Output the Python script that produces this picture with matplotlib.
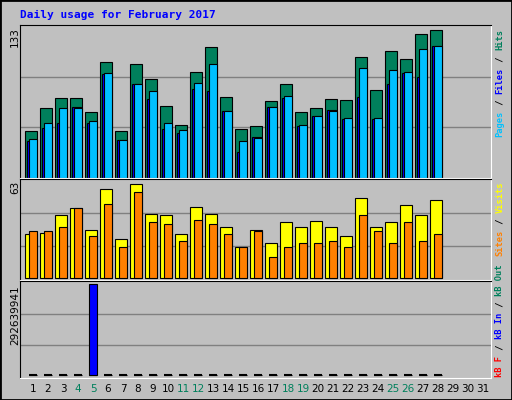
import matplotlib
matplotlib.use("Agg")
import matplotlib.pyplot as plt
from matplotlib.patches import Rectangle

days = list(range(1, 32))
hits = [40.7,61,69.7,69.7,57.4,101,40.7,99.6,86.4,62.7,46,92.6,114.5,70.6,42.5,45,67,82,57.4,61,68.8,68,105.8,76.8,111,104,126,129.5]
pages = [32,44,47.8,61.8,47.8,90.8,32.8,82,68.8,42.5,39,77.6,75.9,58.3,23,35.4,61.8,69.7,45,53.9,59,51.3,70.6,51.3,82,91.7,88.2,115.4]
files = [33.7,47.8,61,61,49.5,91.7,32.8,82,75.9,47.8,41.6,83,99.6,58.3,31.9,34.6,61.8,71.5,46,53.9,58.3,52.1,96,52.1,94.3,92.6,112.8,115.4]
visits = [28.3,29,40.8,44.8,31,57.3,25,60.6,41.5,40.8,28.3,45.4,41.5,32.9,20.4,31,22.4,36.2,32.9,36.9,32.9,27,51.4,32.9,36.2,46.8,40.8,50]
sites = [30.3,30.3,32.9,44.8,27,47.4,19.8,55.3,36.2,34.9,23.7,37.5,34.9,28.3,19.8,30.3,13.8,20.4,22.4,22.4,23.7,19.8,40.8,30.3,22.4,36.2,23.7,28.3]
kb_in = [0,0,0,0,292639941] + [0]*23
weekend = [4,5,11,12,18,19,25,26]
max_top, max_mid, max_bot = 133, 63, 292639941

W, H = 512, 400
fig = plt.figure(figsize=(W/100, H/100), dpi=100, facecolor="#c0c0c0")
fig.patches.append(Rectangle((0,0),1,1,transform=fig.transFigure,fill=False,ec="black",lw=2))
mono = "DejaVu Sans Mono"

def ax_px(x0, y0, x1, y1):
    a = fig.add_axes([x0/W, 1-y1/H, (x1-x0)/W, (y1-y0)/H])
    a.set_facecolor("#c0c0c0")
    a.set_xlim(0.133, 31.53)
    a.set_xticks([]); a.set_yticks([])
    for s in ("left","top"):
        a.spines[s].set_color("black")
    for s in ("right","bottom"):
        a.spines[s].set_color("white")
    return a

n = len(hits)
x = days[:n]

a1 = ax_px(20, 25, 491, 178)
a1.set_ylim(0, max_top*1.005)
for g in (max_top/3, 2*max_top/3):
    a1.axhline(g, color="#808080", lw=1, zorder=0)
a1.bar([i-0.51 for i in x], hits, width=0.8, align="edge", color="#00805c", ec="black", lw=0.8)
a1.bar([i-0.38 for i in x], pages, width=0.6, align="edge", color="#0000ff", ec="black", lw=0.8)
a1.bar([i-0.25 for i in x], files, width=0.5, align="edge", color="#00c0ff", ec="black", lw=0.8)

a2 = ax_px(20, 179, 491, 280)
a2.set_ylim(-1, max_mid*1.01)
for g in (max_mid/3, 2*max_mid/3):
    a2.axhline(g, color="#808080", lw=1, zorder=0)
a2.bar([i-0.51 for i in x], visits, width=0.8, align="edge", color="#ffff00", ec="black", lw=0.8)
a2.bar([i-0.25 for i in x], sites, width=0.5, align="edge", color="#ff8000", ec="black", lw=0.8)

a3 = ax_px(20, 281, 491, 378)
a3.set_ylim(-max_bot*0.03, max_bot*1.03)
for g in (max_bot/3, 2*max_bot/3):
    a3.axhline(g, color="#808080", lw=1, zorder=0)
a3.bar([i-0.25 for i in x], [0]*n, width=0.5, align="edge", color="black", ec="black", lw=1.5)
a3.bar([i-0.25 for i in x], kb_in, width=0.5, align="edge", color="#0000ff", ec="black", lw=0.8)

fig.text(20/W, 1-15/H, "Daily usage for February 2017", color="#0000ff", fontsize=8, fontweight="bold", family=mono, va="center")

for d in days:
    xp = 20 + (d-0.133)/(31.53-0.133)*471
    fig.text(xp/W, 1-389/H, str(d), ha="center", va="center", fontsize=7.5,
             color="#00805c" if d in weekend else "black")

fig.text(15/W, 1-27/H, str(max_top), rotation=90, ha="center", va="top", fontsize=7.5)
fig.text(15/W, 1-181/H, str(max_mid), rotation=90, ha="center", va="top", fontsize=7.5)
fig.text(15/W, 1-285/H, str(max_bot), rotation=90, ha="center", va="top", fontsize=7.5)

def vlabel(xp, ybottom, parts):
    fs = 6.3
    cw = 0.602 * fs * 100 / 72
    y = ybottom
    for txt, col in parts:
        fig.text(xp/W, 1-y/H, txt, rotation=90, ha="center", va="bottom", color=col,
                 fontsize=fs, family=mono, fontweight="bold")
        y -= cw*len(txt) + 0.6

vlabel(500, 137, [("Pages","#00c0ff"),(" / ","black"),("Files","#0000ff"),(" / ","black"),("Hits","#00805c")])
vlabel(500, 256, [("Sites","#ff8000"),(" / ","black"),("Visits","#ffff00")])
vlabel(500, 377, [("kB F","#ff0000"),(" / ","black"),("kB In","#0000ff"),(" / ","black"),("kB Out","#00805c")])

fig.savefig("out.png", dpi=100, facecolor=fig.get_facecolor())
